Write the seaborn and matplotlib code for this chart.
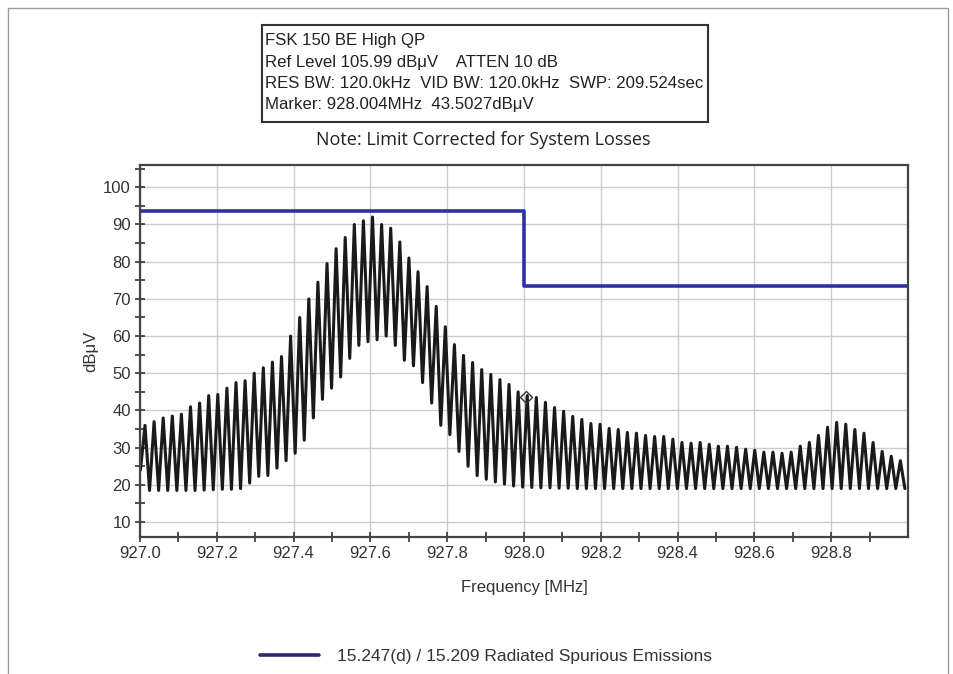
import numpy as np
import pandas as pd
import matplotlib
matplotlib.use("Agg")
import matplotlib.pyplot as plt
from matplotlib.patches import Rectangle
from matplotlib.lines import Line2D
import seaborn as sns

# ---------------- data ----------------
peak_freq_start = 927.013      # MHz, first peak of the sweep
peak_step = 0.0237             # MHz between successive peaks

peak_levels = [36, 37, 38, 38.5, 39, 41, 42, 44, 44.3, 46,
               47.5, 48, 50, 51.5, 53, 54.5, 60, 65, 70, 74.5,
               79.5, 83.5, 86.5, 90, 91, 92, 90, 89, 85.3, 81,
               77.3, 73.3, 68, 62.5, 57.7, 54.8, 52.9, 51, 49.7, 48.3,
               47, 45, 44, 43.5, 42.2, 40.8, 39.8, 38.4, 37.6, 36.5,
               36.3, 35.2, 34.9, 34.1, 33.9, 33.3, 33, 33, 32.3, 31.4,
               31.2, 31.4, 30.9, 30.4, 30.4, 30.1, 29.6, 29.3, 28.8, 28.8,
               28.5, 28.8, 30.4, 31.4, 33.3, 35.5, 36.8, 36.3, 34.9, 33.9,
               31.4, 29, 27.7, 26.5]

trough_levels = [24, 18.5, 18.5, 18.5, 18.5, 18.5, 18.5, 18.6, 18.7, 18.8,
                 18.8, 19, 20.5, 22.3, 22.5, 24.5, 26.5, 28.5, 32, 38,
                 43, 46, 49, 54, 57.5, 58.5, 59, 60, 57.5, 53.5,
                 52, 47.5, 42, 36, 33.5, 29, 25, 22.5, 21.5, 20.8,
                 20.2, 19.7, 19.4, 19.3, 19.2, 19.2, 19.1, 19.1, 19, 19,
                 19, 19, 19, 19, 19, 19, 19, 19, 19, 19,
                 19, 19, 19, 19, 19, 19, 19, 19, 19, 19,
                 19, 19, 19, 19, 19, 19, 19, 19, 19, 19,
                 19, 19, 19, 19, 19]

limit_freq = [927.0, 928.0, 928.0, 929.0]
limit_level = [93.5, 93.5, 73.5, 73.5]

marker_freq = 928.004
marker_level = 43.5027

x_ticks = [927.0, 927.2, 927.4, 927.6, 927.8, 928.0, 928.2, 928.4, 928.6, 928.8]
y_ticks = [10, 20, 30, 40, 50, 60, 70, 80, 90, 100]

info_lines = ["FSK 150 BE High QP",
              "Ref Level 105.99 dB\u03bcV    ATTEN 10 dB",
              "RES BW: 120.0kHz  VID BW: 120.0kHz  SWP: 209.524sec",
              "Marker: 928.004MHz  43.5027dB\u03bcV"]
note_text = "Note: Limit Corrected for System Losses"
legend_label = "15.247(d) / 15.209 Radiated Spurious Emissions"

# ---------------- build the trace (alternating troughs / peaks) ----------------
tx, ty = [], []
for i, t in enumerate(trough_levels):
    tx.append(peak_freq_start + (i - 0.5) * peak_step)
    ty.append(t)
    if i < len(peak_levels):
        tx.append(peak_freq_start + i * peak_step)
        ty.append(peak_levels[i])
trace = pd.DataFrame({"freq": tx, "level": ty})
limit = pd.DataFrame({"freq": limit_freq, "level": limit_level})

# ---------------- figure ----------------
sns.set_style("white")
plt.rcParams['font.family'] = ['Liberation Sans', 'DejaVu Sans']

W, H = 954, 674
fig = plt.figure(figsize=(W / 100, H / 100), dpi=100)
ax = fig.add_axes([140 / W, 1 - 537 / H, (908 - 140) / W, (537 - 165) / H])

sns.lineplot(data=trace, x="freq", y="level", sort=False, estimator=None,
             color="#1a1a1a", linewidth=2.2, ax=ax, legend=False)
sns.lineplot(data=limit, x="freq", y="level", sort=False, estimator=None,
             color="#2f2fa6", linewidth=2.6, ax=ax, legend=False)
ax.plot([marker_freq], [marker_level], marker="D", markersize=6,
        markerfacecolor="none", markeredgecolor="#333333", markeredgewidth=1)

ax.set_xlim(927.0, 929.0)
ax.set_ylim(5.99, 105.99)
ax.set_xticks(x_ticks)
ax.set_xticklabels([f"{v:.1f}" for v in x_ticks])
ax.set_xticks(np.arange(927.1, 929.0, 0.2), minor=True)
ax.set_yticks(y_ticks)
ax.set_yticks(np.arange(15, 106, 10), minor=True)
ax.tick_params(axis="both", which="both", direction="inout", length=7,
               width=1.2, color="#333333", labelsize=12, labelcolor="#333333",
               pad=3, bottom=True, left=True)
ax.grid(True, which="major", color="#cccccc", linewidth=1)
ax.set_axisbelow(True)
for s in ax.spines.values():
    s.set_color("#444444")
    s.set_linewidth(1.6)

ax.set_xlabel("Frequency [MHz]", fontsize=12, color="#333333", labelpad=14)
ax.set_ylabel("dB\u03bcV", fontsize=12, color="#333333")
ax.yaxis.set_label_coords(-0.054, 0.5)

# info box
fig.patches.append(Rectangle((262 / W, 1 - 122 / H), (708 - 262) / W, (122 - 25) / H,
                             transform=fig.transFigure, fill=False,
                             edgecolor="#333333", linewidth=1.5))
for line, yy in zip(info_lines, [41, 62, 84, 105]):
    fig.text(265 / W, 1 - yy / H, line, fontsize=12.1, color="#222222",
             ha="left", va="center")
fig.text(483 / W, 1 - 140 / H, note_text, fontsize=13, color="#222222",
         ha="center", va="center", family=["Open Sans", "DejaVu Sans"])

# outer frame
fig.patches.append(Rectangle((8 / W, -0.01), (948 - 8) / W, 1 - 8 / H + 0.01,
                             transform=fig.transFigure, fill=False,
                             edgecolor="#9a9a9a", linewidth=1))

# legend
handle = Line2D([], [], color="#2a2a70", linewidth=2.6)
fig.legend([handle], [legend_label], loc="center", bbox_to_anchor=(486 / W, 1 - 656 / H),
           frameon=False, fontsize=12.5, handlelength=3.4, handletextpad=1.0,
           labelcolor="#333333")

fig.savefig("out.png", dpi=100)
